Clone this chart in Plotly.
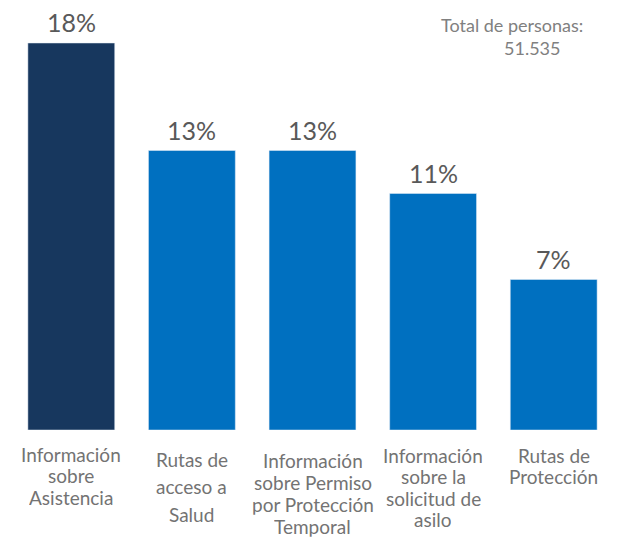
import plotly.graph_objects as go

categories = [
    "Información<br>sobre<br>Asistencia",
    "Rutas de<br>acceso a<br>Salud",
    "Información<br>sobre Permiso<br>por Protección<br>Temporal",
    "Información<br>sobre la<br>solicitud de<br>asilo",
    "Rutas de<br>Protección",
]
values = [18, 13, 13, 11, 7]
bar_colors = ["#17375E", "#0070C0", "#0070C0", "#0070C0", "#0070C0"]
total_label = "Total de personas:"
total_value = "51.535"

# style: per-category label line spacing (px) and first baseline (px below plot bottom)
label_spacing = [21.5, 27.5, 21.7, 21.5, 21.5]
label_first = [30, 35, 37, 31, 31]

PLOT_H = 400.0

fig = go.Figure(go.Bar(
    x=categories,
    y=values,
    marker_color=bar_colors,
    cliponaxis=False,
    hoverinfo="x+y",
))

annotations = []
for cat, v in zip(categories, values):
    annotations.append(dict(
        x=cat, y=v, xref="x", yref="y", text=f"{v}%", showarrow=False,
        xanchor="center", yanchor="middle", yshift=21,
        font=dict(family="Lato", size=25, color="#595959"),
    ))

for i, cat in enumerate(categories):
    for j, line in enumerate(cat.split("<br>")):
        base = label_first[i] + j * label_spacing[i]
        annotations.append(dict(
            x=cat, y=-(base - 6) / PLOT_H, xref="x", yref="paper", text=line,
            showarrow=False, xanchor="center", yanchor="middle",
            height=label_spacing[i] - 1, valign="middle", borderpad=0,
            font=dict(family="Lato", size=19, color="#737373"),
        ))

annotations.append(dict(
    text=total_label, x=0.831, y=1.0125, xref="paper", yref="paper",
    xanchor="center", yanchor="middle", showarrow=False,
    font=dict(family="Lato", size=18, color="#808080"),
))
annotations.append(dict(
    text=total_value, x=0.864, y=0.955, xref="paper", yref="paper",
    xanchor="center", yanchor="middle", showarrow=False,
    font=dict(family="Lato", size=18, color="#808080"),
))

fig.update_layout(
    width=625, height=540,
    margin=dict(l=3, r=19, t=22, b=118),
    paper_bgcolor="white", plot_bgcolor="white",
    bargap=0.28,
    showlegend=False,
    xaxis=dict(showticklabels=False, showline=False, ticks="", showgrid=False,
               automargin=False),
    yaxis=dict(visible=False, range=[0, 18 * 400 / 387], automargin=False),
    annotations=annotations,
)

fig.write_html("out.html")
